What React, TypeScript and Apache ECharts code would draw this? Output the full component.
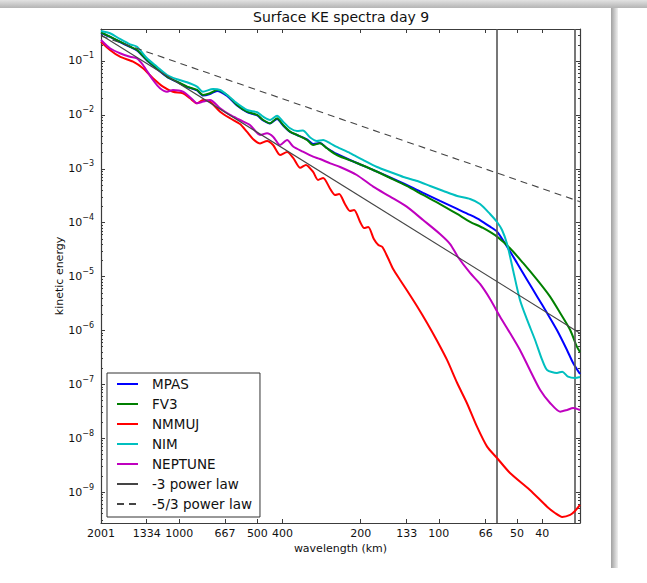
import React, { useEffect, useRef } from 'react';
import * as echarts from 'echarts';

const TITLE = 'Surface KE spectra day 9';
const X_NAME = 'wavelength (km)';
const Y_NAME = 'kinetic energy';

// wavelength (km) axis, drawn as log scale of wavenumber (inverse log of wavelength)
const X_MIN = 28.6;
const X_MAX = 2001.05;
const X_TICK_VALUES = [2001, 1334, 1000, 667, 500, 400, 200, 133, 100, 66, 50, 40];
const X_TICK_LABELS = ['2001', '1334', '1000', '667', '500', '400', '200', '133', '100', '66', '50', '40'];

const Y_MIN = 2.68e-10;
const Y_MAX = 0.392;
const Y_EXPONENTS = [-1, -2, -3, -4, -5, -6, -7, -8, -9];
const Y_MINOR_MANTISSAS = [2, 3, 4, 5, 6, 7, 8, 9];

const V_LINES = [60, 30];

const SERIES_NAMES = ['MPAS', 'FV3', 'NMMUJ', 'NIM', 'NEPTUNE', '-3 power law', '-5/3 power law'];

// [wavelength km, kinetic energy]
const MPAS: [number, number][] = [
  [2001, 0.331], [1848, 0.279], [1691, 0.225], [1547, 0.182], [1454, 0.157], [1331, 0.102],
  [1218, 0.0711], [1114, 0.0505], [1020, 0.0408], [933, 0.0329], [854, 0.0284], [810, 0.0229],
  [761, 0.0244], [715, 0.0278], [654, 0.0224], [599, 0.0149], [548, 0.0113], [501, 0.00975],
  [475, 0.00787], [447, 0.00693], [420, 0.00839], [398, 0.00636], [374, 0.00482], [352, 0.00424],
  [322, 0.0035], [305, 0.00289], [287, 0.00301], [270, 0.00243], [247, 0.00188], [207, 0.00128],
  [179, 9.5e-4], [154, 6.9e-4], [133, 5.0e-4], [115, 3.56e-4], [99, 2.53e-4], [85, 1.8e-4],
  [75.8, 1.39e-4], [69.4, 1.12e-4], [63.5, 8.43e-5], [59.7, 6.81e-5], [54.6, 3.59e-5], [50.0, 1.79e-5],
  [45.7, 8.65e-6], [41.8, 4.24e-6], [38.3, 2.11e-6], [35.1, 1.02e-6], [32.1, 4.35e-7], [30.4, 2.49e-7],
  [28.6, 1.56e-7],
];

const FV3: [number, number][] = [
  [2001, 0.338], [1848, 0.282], [1691, 0.228], [1547, 0.184], [1454, 0.16], [1331, 0.104],
  [1218, 0.0732], [1114, 0.0511], [1020, 0.0413], [933, 0.0334], [854, 0.029], [810, 0.0234],
  [761, 0.0252], [715, 0.029], [654, 0.0234], [599, 0.0153], [548, 0.01147], [501, 0.00996],
  [475, 0.00804], [447, 0.00699], [420, 0.00865], [398, 0.0065], [374, 0.00488], [352, 0.00424],
  [322, 0.00342], [305, 0.00276], [287, 0.00297], [270, 0.0024], [247, 0.0018], [207, 0.00128],
  [179, 9.5e-4], [154, 6.75e-4], [133, 4.8e-4], [115, 3.27e-4], [99, 2.22e-4], [85, 1.45e-4],
  [75.8, 1.04e-4], [67.6, 7.97e-5], [59.7, 5.5e-5], [53.2, 3.35e-5], [47.4, 1.79e-5], [41.8, 8.65e-6],
  [37.3, 4.24e-6], [34.1, 2.11e-6], [31.2, 1.02e-6], [29.4, 5.0e-7], [28.6, 3.99e-7],
];

const NMMUJ: [number, number][] = [
  [2001, 0.228], [1848, 0.16], [1691, 0.12], [1506, 0.097], [1379, 0.0732], [1262, 0.0478],
  [1155, 0.0334], [1057, 0.0269], [967, 0.0252], [909, 0.0203], [854, 0.0164], [810, 0.0189],
  [761, 0.0176], [696, 0.01147], [637, 0.00865], [583, 0.00678], [548, 0.00482], [520, 0.00357],
  [488, 0.00295], [459, 0.00328], [435, 0.00276], [409, 0.0018], [384, 0.00205], [364, 0.00159],
  [342, 0.00104], [325, 0.00118], [305, 8.72e-4], [292, 6.2e-4], [279, 6.75e-4], [262, 4.22e-4],
  [251, 3.27e-4], [242, 3.41e-4], [230, 2.22e-4], [220, 1.65e-4], [212, 1.72e-4], [201, 1.03e-4],
  [194, 7.97e-5], [187, 8.32e-5], [178, 4.98e-5], [171, 3.86e-5], [165, 3.54e-5], [157, 2.21e-5],
  [150, 1.38e-5], [141, 8.65e-6], [133, 5.64e-6], [121, 2.76e-6], [111, 1.38e-6], [102, 6.66e-7],
  [93, 2.84e-7], [85, 1.06e-7], [78, 4.52e-8], [71.3, 1.64e-8], [65.2, 6.99e-9], [59.7, 4.31e-9],
  [53.2, 2.27e-9], [44.6, 1.1e-9], [38.3, 5.38e-10], [35.7, 4.11e-10], [33.5, 3.47e-10],
  [31.2, 3.78e-10], [29.9, 4.48e-10], [28.6, 5.79e-10],
];

const NIM: [number, number][] = [
  [2001, 0.36], [1848, 0.327], [1691, 0.256], [1547, 0.204], [1454, 0.184], [1331, 0.112],
  [1218, 0.0784], [1114, 0.055], [1020, 0.0458], [933, 0.0402], [854, 0.0334], [810, 0.0269],
  [741, 0.0302], [696, 0.029], [654, 0.0234], [599, 0.0164], [548, 0.0123], [501, 0.0112],
  [475, 0.00926], [447, 0.00804], [420, 0.00966], [398, 0.00748], [374, 0.00564], [352, 0.00503],
  [334, 0.00514], [313, 0.00381], [295, 0.00328], [279, 0.00342], [262, 0.00297], [247, 0.00254],
  [220, 0.00196], [196, 0.00146], [173, 0.00108], [154, 8.72e-4], [137, 7.05e-4], [121, 5.94e-4],
  [108, 4.8e-4], [96, 3.87e-4], [85, 3.13e-4], [75.8, 2.75e-4], [69.4, 2.22e-4], [63.5, 1.45e-4],
  [59.7, 1.03e-4], [57.1, 7.32e-5], [54.6, 4.02e-5], [51.8, 1.33e-5], [48.7, 3.68e-6], [45.7, 1.57e-6],
  [42.6, 6.66e-7], [40.0, 2.84e-7], [38.3, 1.85e-7], [35.1, 1.63e-7], [33.5, 1.72e-7], [31.8, 1.39e-7],
  [29.9, 1.31e-7], [28.6, 1.37e-7],
];

const NEPTUNE: [number, number][] = [
  [2001, 0.245], [1848, 0.172], [1691, 0.139], [1547, 0.12], [1454, 0.1122], [1379, 0.0843],
  [1262, 0.0444], [1186, 0.0312], [1114, 0.0269], [1057, 0.029], [967, 0.0269], [885, 0.0189],
  [854, 0.0164], [810, 0.0176], [761, 0.0189], [696, 0.0133], [637, 0.00996], [583, 0.00804],
  [534, 0.0065], [488, 0.00424], [459, 0.00456], [435, 0.00394], [409, 0.00276], [384, 0.00342],
  [364, 0.00259], [334, 0.00208], [305, 0.00168], [287, 0.00152], [262, 0.00126], [240, 0.00108],
  [207, 7.67e-4], [179, 4.66e-4], [154, 3.04e-4], [133, 1.98e-4], [115, 1.12e-4], [99, 6.17e-5],
  [90.5, 4.02e-5], [84.4, 2.31e-5], [75.8, 1.17e-5], [69.4, 7.29e-6], [63.5, 3.84e-6], [58.1, 1.8e-6],
  [53.2, 8.99e-7], [48.7, 4.35e-7], [44.6, 1.85e-7], [40.7, 7.87e-8], [37.3, 4.52e-8], [34.1, 3.12e-8],
  [32.1, 3.35e-8], [30.4, 3.65e-8], [28.6, 3.35e-8],
];

const POWER_M3: [number, number][] = [[2001, 0.303], [28.6, 8.9e-7]];
const POWER_M53: [number, number][] = [[2001, 0.291], [28.6, 2.45e-4]];

const COLORS = ['#0000ff', '#008000', '#ff0000', '#00bfbf', '#bf00bf', '#454545', '#454545'];
const MODEL_DATA = [MPAS, FV3, NMMUJ, NIM, NEPTUNE];

const FONT = 'DejaVu Sans';
const AXIS_COLOR = '#3c3c3c';
const TEXT_COLOR = '#111';

export default function App() {
  const ref = useRef<HTMLDivElement>(null);

  useEffect(() => {
    if (!ref.current) return;
    const chart = echarts.init(ref.current, null, { renderer: 'svg' });

    const yMajor = Y_EXPONENTS.map((e) => Math.pow(10, e));
    const yMinor: number[] = [];
    for (let e = -10; e <= -1; e++) {
      for (const m of Y_MINOR_MANTISSAS) {
        const v = m * Math.pow(10, e);
        if (v > Y_MIN && v < Y_MAX) yMinor.push(v);
      }
    }
    const xTicks = X_TICK_VALUES.filter((v) => v >= X_MIN && v <= X_MAX);

    const xLabel = (v: number) => {
      let best = 0;
      let bestD = Infinity;
      X_TICK_VALUES.forEach((t, i) => {
        const d = Math.abs(Math.log(t) - Math.log(v));
        if (d < bestD) {
          bestD = d;
          best = i;
        }
      });
      return X_TICK_LABELS[best];
    };

    const axisLine = { show: true, lineStyle: { color: AXIS_COLOR, width: 1.2 } };
    const xBase = {
      type: 'log',
      logBase: 10,
      min: X_MIN,
      max: X_MAX,
      inverse: true,
      splitLine: { show: false },
      minorTick: { show: false },
      axisLine,
    };
    const yBase = {
      type: 'log',
      logBase: 10,
      min: Y_MIN,
      max: Y_MAX,
      splitLine: { show: false },
      minorTick: { show: false },
    };

    const modelSeries = MODEL_DATA.map((d, i) => ({
      name: SERIES_NAMES[i],
      type: 'line',
      data: d,
      xAxisIndex: 0,
      yAxisIndex: 0,
      symbol: 'none',
      showSymbol: false,
      smooth: 0.25,
      lineStyle: { color: COLORS[i], width: 2 },
      itemStyle: { color: COLORS[i] },
      z: 3 + i,
    }));

    const option: any = {
      animation: false,
      backgroundColor: '#ffffff',
      textStyle: { fontFamily: FONT },
      title: {
        text: TITLE,
        left: 253,
        top: 10,
        padding: 0,
        textStyle: { fontFamily: FONT, fontSize: 14, fontWeight: 'normal', color: TEXT_COLOR },
      },
      grid: { left: 101, top: 29, right: 67, bottom: 60, containLabel: false },
      legend: {
        data: SERIES_NAMES,
        orient: 'vertical',
        left: 107,
        top: 373,
        padding: [4, 8, 6, 9],
        itemGap: 6,
        itemWidth: 21,
        itemHeight: 14,
        backgroundColor: '#ffffff',
        borderColor: '#333',
        borderWidth: 1,
        borderRadius: 0,
        selectedMode: false,
        itemStyle: { opacity: 0 },
        textStyle: { fontFamily: FONT, fontSize: 13.5, color: TEXT_COLOR, padding: [0, 0, 0, 9] },
      },
      xAxis: [
        {
          ...xBase,
          position: 'bottom',
          axisTick: { show: true, inside: true, length: 4, customValues: xTicks, lineStyle: { color: AXIS_COLOR } },
          axisLabel: {
            show: true,
            customValues: xTicks,
            formatter: (v: number) => xLabel(v),
            margin: 5,
            fontFamily: FONT,
            fontSize: 11,
            color: TEXT_COLOR,
          },
          name: X_NAME,
          nameLocation: 'middle',
          nameGap: 20,
          nameMoveOverlap: false,
          nameTextStyle: { fontFamily: FONT, fontSize: 11, color: TEXT_COLOR },
        },
        {
          ...xBase,
          position: 'top',
          axisTick: { show: true, inside: true, length: 4, customValues: xTicks, lineStyle: { color: AXIS_COLOR } },
          axisLabel: { show: false },
        },
      ],
      yAxis: [
        {
          ...yBase,
          position: 'left',
          axisLine,
          axisTick: { show: true, inside: true, length: 4, customValues: yMajor, lineStyle: { color: AXIS_COLOR } },
          axisLabel: {
            show: true,
            customValues: yMajor,
            margin: 7,
            fontFamily: FONT,
            fontSize: 11,
            lineHeight: 18,
            color: TEXT_COLOR,
            formatter: (v: number) => `10{sup|\u2212${Math.round(-Math.log10(v))}}`,
            rich: {
              sup: { fontFamily: FONT, fontSize: 8, lineHeight: 9, verticalAlign: 'top', color: TEXT_COLOR },
            },
          },
          name: Y_NAME,
          nameLocation: 'middle',
          nameGap: 36,
          nameRotate: 90,
          nameMoveOverlap: false,
          nameTextStyle: { fontFamily: FONT, fontSize: 11, color: TEXT_COLOR },
        },
        {
          ...yBase,
          position: 'left',
          axisLine: { show: false },
          axisTick: { show: true, inside: true, length: 2, customValues: yMinor, lineStyle: { color: AXIS_COLOR } },
          axisLabel: { show: false },
        },
        {
          ...yBase,
          position: 'right',
          axisLine,
          axisTick: { show: true, inside: true, length: 4, customValues: yMajor, lineStyle: { color: AXIS_COLOR } },
          axisLabel: { show: false },
        },
        {
          ...yBase,
          position: 'right',
          axisLine: { show: false },
          axisTick: { show: true, inside: true, length: 2, customValues: yMinor, lineStyle: { color: AXIS_COLOR } },
          axisLabel: { show: false },
        },
      ],
      series: [
        ...modelSeries,
        {
          name: SERIES_NAMES[5],
          type: 'line',
          data: POWER_M3,
          symbol: 'none',
          showSymbol: false,
          lineStyle: { color: COLORS[5], width: 1.1 },
          itemStyle: { color: COLORS[5] },
          z: 9,
        },
        {
          name: SERIES_NAMES[6],
          type: 'line',
          data: POWER_M53,
          symbol: 'none',
          showSymbol: false,
          lineStyle: { color: COLORS[6], width: 1.1, type: [7, 5] },
          itemStyle: { color: COLORS[6] },
          z: 9,
          markLine: {
            silent: true,
            symbol: ['none', 'none'],
            label: { show: false },
            lineStyle: { color: '#555', width: 1.6, type: 'solid' },
            data: V_LINES.map((v) => ({ xAxis: v })),
          },
        },
      ],
      graphic: [
        {
          type: 'rect',
          shape: { x: 0, y: 0, width: 647, height: 8 },
          style: {
            fill: new echarts.graphic.LinearGradient(0, 0, 0, 1, [
              { offset: 0, color: '#e2e2e2' },
              { offset: 1, color: '#b4b4b4' },
            ]),
          },
          silent: true,
        },
        {
          type: 'rect',
          shape: { x: 611, y: 8, width: 7, height: 560 },
          style: {
            fill: new echarts.graphic.LinearGradient(0, 0, 1, 0, [
              { offset: 0, color: '#a0a0a0' },
              { offset: 1, color: '#f0f0f0' },
            ]),
          },
          silent: true,
        },
      ],
    };

    chart.setOption(option);
    return () => chart.dispose();
  }, []);

  return (
    <div
      ref={ref}
      style={{ position: 'fixed', left: 0, top: 0, width: 647, height: 583, background: '#fff' }}
    />
  );
}
